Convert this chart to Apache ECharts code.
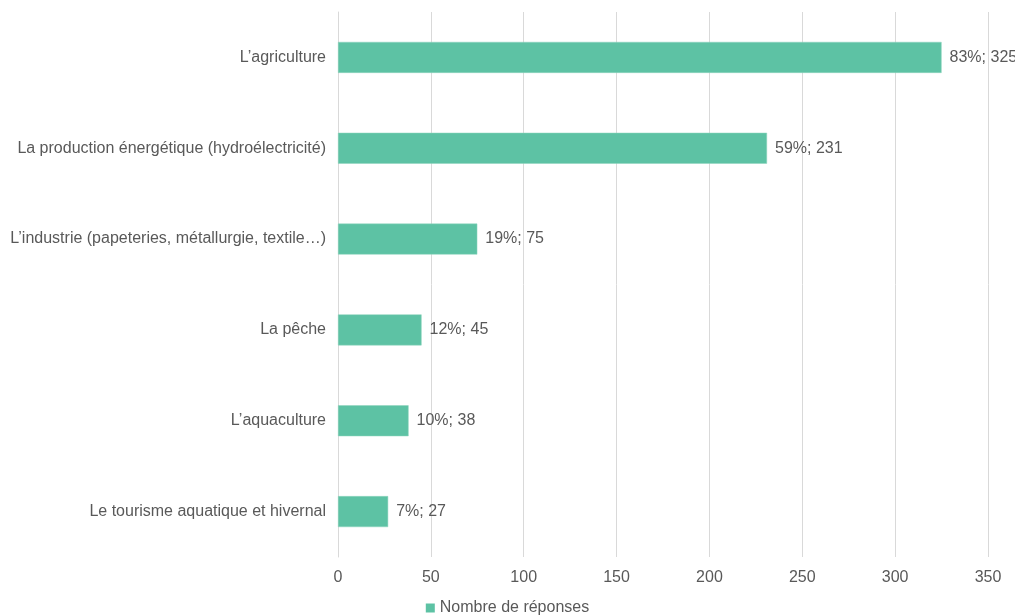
<!DOCTYPE html>
<html>
<head>
<meta charset="utf-8">
<script src="https://cdn.jsdelivr.net/npm/echarts@6/dist/echarts.min.js"></script>
<style>
  html, body { margin: 0; padding: 0; background: #fff; }
  #chart { width: 1015px; height: 616px; }
</style>
</head>
<body>
<div id="chart"></div>
<script>
// données (de haut en bas)
const categories = [
  'L\u2019agriculture',
  'La production énergétique (hydroélectricité)',
  'L\u2019industrie (papeteries, métallurgie, textile…)',
  'La pêche',
  'L\u2019aquaculture',
  'Le tourisme aquatique et hivernal'
];
const reponses = [325, 231, 75, 45, 38, 27];
const pourcentages = [83, 59, 19, 12, 10, 7];
const xTicks = [0, 50, 100, 150, 200, 250, 300, 350];

const chart = echarts.init(document.getElementById('chart'));
const txt = '#595959';
const font = '"Liberation Sans"';
const fs = 16;

chart.setOption({
  animation: false,
  textStyle: { fontFamily: font },
  grid: { left: 338, right: 27, top: 12, bottom: 59, containLabel: false },
  legend: {
    bottom: -5,
    left: 'center',
    itemWidth: 9,
    itemHeight: 9,
    icon: 'rect',
    itemStyle: { borderWidth: 0 },
    textStyle: { color: txt, fontSize: fs, fontFamily: font },
    itemGap: 4,
    data: ['Nombre de réponses']
  },
  xAxis: {
    type: 'value',
    min: xTicks[0],
    max: xTicks[xTicks.length - 1],
    interval: 50,
    axisLine: { show: false },
    axisTick: { show: false },
    axisLabel: { color: txt, fontSize: fs, fontFamily: font, margin: 13 },
    splitLine: { lineStyle: { color: '#d9d9d9', width: 1 } }
  },
  yAxis: {
    type: 'category',
    inverse: true,
    data: categories,
    axisLine: { show: true, lineStyle: { color: '#d9d9d9' } },
    axisTick: { show: false },
    axisLabel: { color: txt, fontSize: fs, fontFamily: font, margin: 12 }
  },
  series: [{
    name: 'Nombre de réponses',
    type: 'bar',
    data: reponses,
    barWidth: 31,
    itemStyle: { color: '#5dc2a4', borderColor: '#8ed4bd', borderWidth: 0.5 },
    label: {
      show: true,
      position: 'right',
      distance: 8,
      color: txt,
      fontSize: fs,
      fontFamily: font,
      formatter: p => pourcentages[p.dataIndex] + '%; ' + p.value
    }
  }]
});
</script>
</body>
</html>
